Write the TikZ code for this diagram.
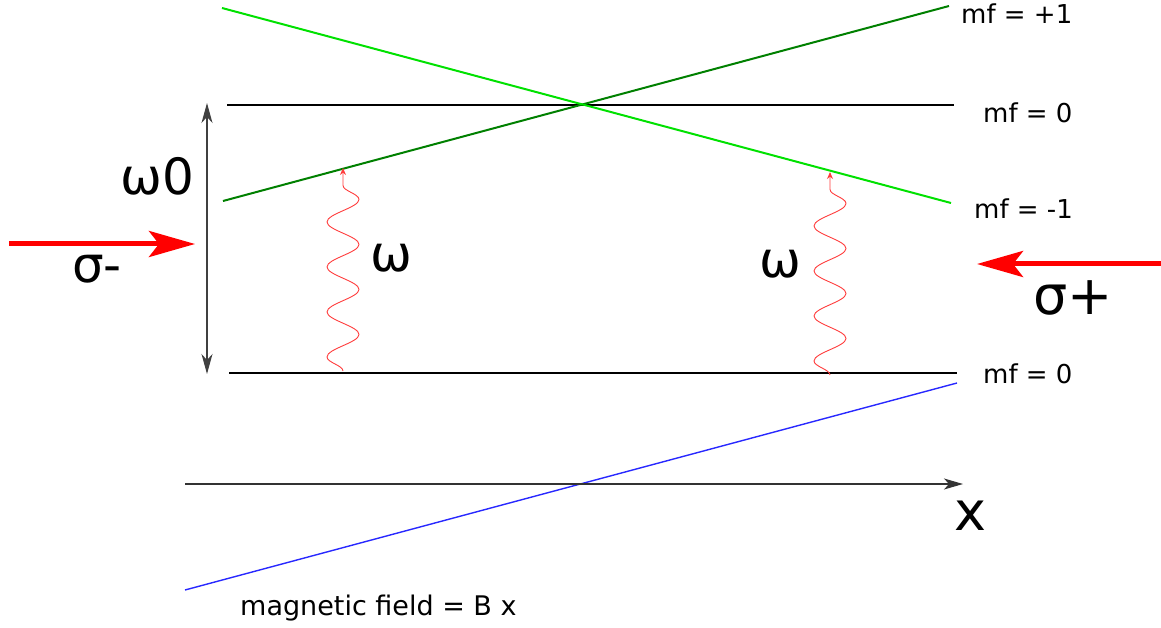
\documentclass[tikz,border=0pt]{standalone}
\usepackage{fontspec}
\setmainfont{DejaVu Sans}
\usetikzlibrary{arrows.meta,decorations.pathmorphing}
\definecolor{dkgreen}{RGB}{0,128,0}
\definecolor{ltgreen}{RGB}{0,225,0}
\definecolor{bline}{RGB}{40,40,255}
\definecolor{wavered}{RGB}{255,60,60}
\tikzset{
  lbl/.style={inner sep=0pt,anchor=base west,font=\fontsize{26}{30}\selectfont},
  big/.style={inner sep=0pt,anchor=base west,font=\fontsize{50}{56}\selectfont},
  level/.style={line width=2pt,black},
  beam/.style={line width=5pt,red,-{Stealth[length=46pt,width=26pt,inset=10pt]}},
  photon/.style={wavered,line width=0.9pt,-{Stealth[length=7pt,width=6pt]},
    decorate,decoration={snake,amplitude=16pt,segment length=45pt,post length=12pt}},
}
\begin{document}
\begin{tikzpicture}[x=1pt,y=-1pt]
\useasboundingbox (0,0) rectangle (1161,628);
% end points
\coordinate (t0l) at (227,105); \coordinate (t0r) at (954,105);
\coordinate (b0l) at (229,373); \coordinate (b0r) at (957,373);
\coordinate (p1l) at (223,201); \coordinate (p1r) at (949,6);
\coordinate (m1l) at (222,8);   \coordinate (m1r) at (951,203);
\coordinate (bfl) at (185,590); \coordinate (bfr) at (957,383);
\coordinate (axl) at (185,484); \coordinate (axr) at (963,484);
\coordinate (wt) at (207,103);  \coordinate (wb) at (207,374);
\coordinate (sml) at (9,244);   \coordinate (smr) at (195,244);
\coordinate (spl) at (977,264); \coordinate (spr) at (1161,264);
\coordinate (w1b) at (343,371); \coordinate (w1t) at (343,168);
\coordinate (w2b) at (830,375); \coordinate (w2t) at (830,172);
% levels
\draw[level] (t0l) -- (t0r);
\draw[level] (b0l) -- (b0r);
\draw[dkgreen,line width=2pt] (p1l) -- (p1r);
\draw[ltgreen,line width=2pt] (m1l) -- (m1r);
\draw[bline,line width=1.4pt] (bfl) -- (bfr);
% axis
\draw[black!80,line width=1.3pt,-{Stealth[length=19pt,width=11pt,inset=5pt]}] (axl) -- (axr);
% omega0 double arrow
\draw[black!75,line width=1.3pt,{Stealth[length=20pt,width=11pt,inset=6pt]}-{Stealth[length=20pt,width=11pt,inset=6pt]}] (wt) -- (wb);
% beams
\draw[beam] (sml) -- (smr);
\draw[beam] (spr) -- (spl);
% photons
\draw[photon] (w1b) -- (w1t);
\draw[photon] (w2b) -- (w2t);
% labels
\node[lbl] (lp1) at (961,24) {mf = +1};
\node[lbl] (lt0) at (983,123) {mf = 0};
\node[lbl] (lm1) at (974,219) {mf = -1};
\node[lbl] (lb0) at (983,383) {mf = 0};
\node[lbl,font=\fontsize{27}{30}\selectfont] (lmag) at (240,615) {magnetic field = B x};
\node[big] (lw0) at (120,195) {ω0};
\node[big] (lw1) at (370,272) {ω};
\node[big] (lw2) at (759,277) {ω};
\node[big] (lsm) at (72,283) {σ-};
\node[big,font=\fontsize{54}{60}\selectfont] (lsp) at (1033,314) {σ+};
\node[big,font=\fontsize{54}{60}\selectfont] (lx) at (954,530) {x};
\end{tikzpicture}
\end{document}
